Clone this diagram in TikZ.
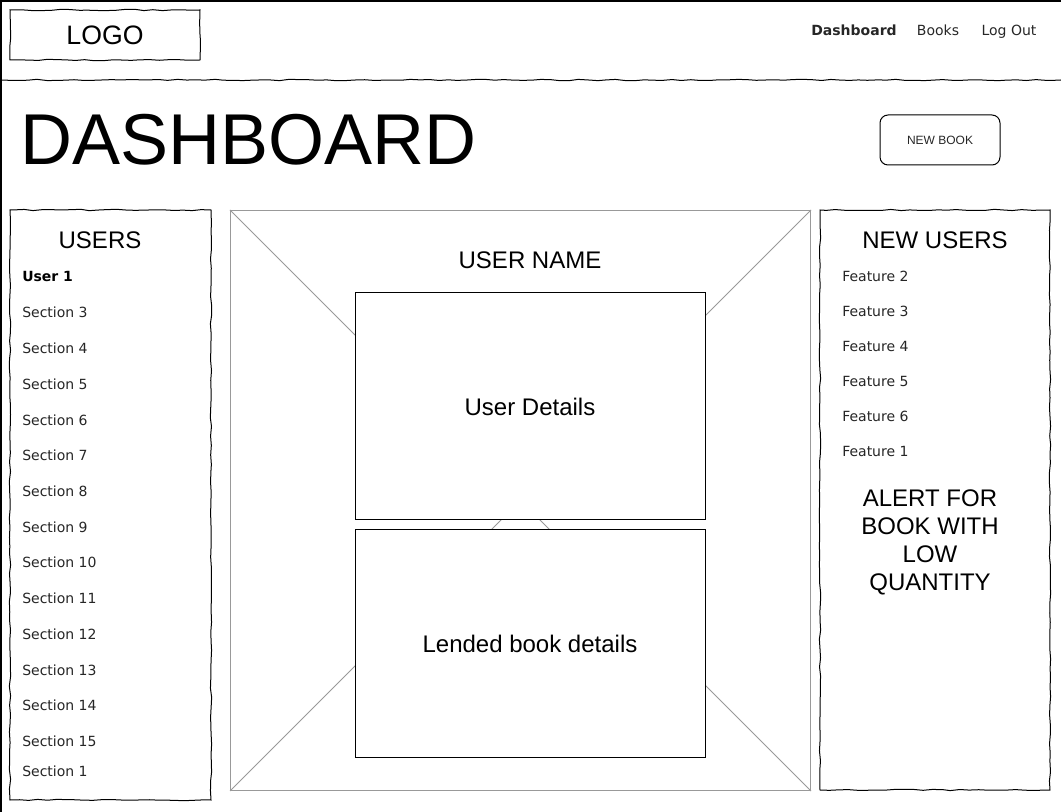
\documentclass[tikz,border=0pt]{standalone}
\usepackage{fontspec}
\setmainfont{Liberation Sans}
\newfontfamily\verd{DejaVu Sans}
\usetikzlibrary{decorations.pathmorphing}

\tikzset{
  sketch/.style={draw, line width=0.75pt, decorate,
    decoration={random steps, segment length=7pt, amplitude=0.5pt}},
  panel/.style={sketch, inner sep=0pt, outer sep=0pt, fill=white},
  plainbox/.style={draw, line width=0.75pt, fill=white, inner sep=0pt, outer sep=0pt},
  item/.style={anchor=west, inner sep=0pt, font=\verd\fontsize{10.5}{12}\selectfont, text=black!85},
  navitem/.style={anchor=base, inner sep=0pt, font=\verd\fontsize{10.5}{12}\selectfont, text=black!85},
  heading/.style={inner sep=0pt, font=\fontsize{18}{21}\selectfont}
}

\begin{document}
\begin{tikzpicture}[x=0.75pt, y=-0.75pt]
  \useasboundingbox (0,0) rectangle (1061,812);
  \node[draw, line width=0.9pt, inner sep=0pt, minimum width=795pt, minimum height=608.25pt, anchor=north west] (page) at (0.5,0.5) {};

  % header
  \coordinate (hl) at (0,80);
  \coordinate (hr) at (1061,80);
  \draw[sketch] (hl) -- (hr);
  \node[panel, minimum width=142.5pt, minimum height=37.5pt] (logo) at (105,35) {\fontsize{20}{24}\selectfont LOGO};
  \node[navitem, font=\verd\bfseries\fontsize{10.5}{12}\selectfont] (navdash) at (854,36) {Dashboard};
  \node[navitem] (navbooks) at (938,36) {Books};
  \node[navitem] (navout) at (1009,36) {Log Out};

  % title row
  \node[anchor=west, inner sep=0pt, font=\fontsize{54}{60}\selectfont] (title) at (20,140) {DASHBOARD};
  \node[plainbox, rounded corners=6pt, minimum width=90pt, minimum height=37.5pt,
        font=\fontsize{9}{11}\selectfont, text=black!85] (newbook) at (940,140) {NEW BOOK};

  % left column
  \node[panel, minimum width=150.75pt, minimum height=442.5pt, anchor=north west] (users) at (10,210) {};
  \node[heading] (usershead) at (100,240) {USERS};
  \node[item, font=\verd\bfseries\fontsize{10.5}{12}\selectfont, text=black] (user1) at (22,277) {User 1};
  \foreach \n/\y in {3/312,4/348,5/384,6/420,7/455,8/491,9/527,10/562,11/598,12/634,13/670,14/705,15/741,1/771}
    \node[item] (sec\n) at (22,\y) {Section \n};

  % center
  \node[draw=black!40, line width=0.75pt, inner sep=0pt, minimum width=435pt, minimum height=435pt, anchor=north west] (frame) at (230,210) {};
  \draw[black!40, line width=0.6pt] (frame.north west) -- (frame.south east);
  \draw[black!40, line width=0.6pt] (frame.north east) -- (frame.south west);
  \node[heading] (uname) at (530,260) {USER NAME};
  \node[plainbox, minimum width=262.5pt, minimum height=170.25pt, anchor=north west,
        font=\fontsize{18}{21}\selectfont] (details) at (355,293) {User Details};
  \node[plainbox, minimum width=262.5pt, minimum height=170.25pt, anchor=north west,
        font=\fontsize{18}{21}\selectfont] (lended) at (355,530) {Lended book details};

  % right column
  \node[panel, minimum width=172.5pt, minimum height=435pt, anchor=north west] (newusers) at (820,210) {};
  \node[heading] (nuhead) at (935,240) {NEW USERS};
  \foreach \n/\y in {2/276,3/311,4/346,5/381,6/416,1/451}
    \node[item] (feat\n) at (842,\y) {Feature \n};
  \node[heading, align=center, anchor=north] (alert) at (930,489) {ALERT FOR\\BOOK WITH\\LOW\\QUANTITY};
\end{tikzpicture}
\end{document}
